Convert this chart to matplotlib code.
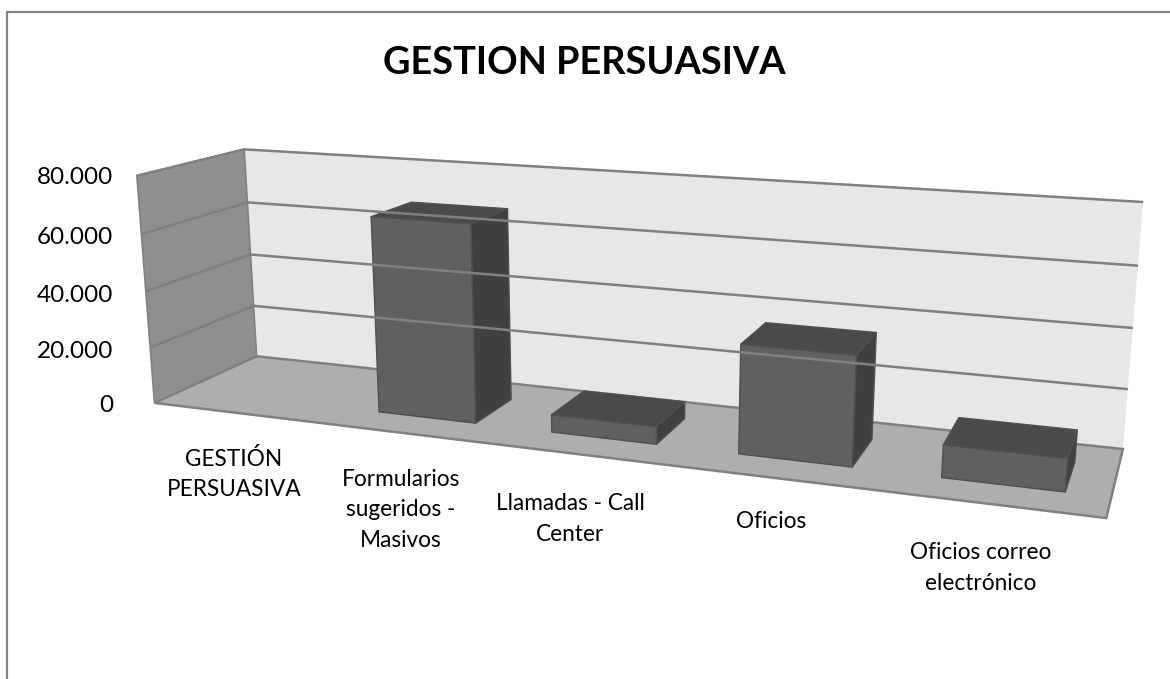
import numpy as np
import matplotlib
matplotlib.use("Agg")
import matplotlib.pyplot as plt
from matplotlib.patches import Polygon

categories = ["GESTIÓN\nPERSUASIVA", "Formularios\nsugeridos -\nMasivos", "Llamadas - Call\nCenter", "Oficios", "Oficios correo\nelectrónico"]
values = [0, 68000, 6000, 36000, 10500]
yticks = [0, 20000, 40000, 60000, 80000]
ytick_labels = ["0", "20.000", "40.000", "60.000", "80.000"]
title = "GESTION PERSUASIVA"

# camera calibration of the 3-D box: (category axis, depth, value) -> image pixel
calib_world = np.array([
    (0, 0, 0), (5, 0, 0), (0, 1, 0), (5, 1, 0), (0, 1, 80000), (5, 1, 80000), (0, 0, 80000),
    (0, 0, 20000), (0, 0, 40000), (0, 0, 60000), (0, 1, 20000), (0, 1, 40000), (0, 1, 60000),
    (5, 1, 20000), (5, 1, 40000), (5, 1, 60000)], float)
calib_px = np.array([
    (153, 403), (1106, 519), (256, 356), (1123, 448), (244, 149), (1143, 202), (136, 175),
    (152, 347), (146, 292), (142, 234), (254, 306), (251, 255), (247, 203),
    (1128, 389), (1133, 328), (1138, 266)], float)


def fit_camera(w, p):
    w = w / np.array([5.0, 1.0, 80000.0])
    rows = []
    for (X, Y, Z), (u, v) in zip(w, p):
        rows.append([X, Y, Z, 1, 0, 0, 0, 0, -u * X, -u * Y, -u * Z, -u])
        rows.append([0, 0, 0, 0, X, Y, Z, 1, -v * X, -v * Y, -v * Z, -v])
    _, _, vt = np.linalg.svd(np.array(rows))
    return vt[-1].reshape(3, 4)


CAM = fit_camera(calib_world, calib_px)


def project(x, d, z):
    h = CAM @ np.array([x / 5.0, d, z / 80000.0, 1.0])
    return h[0] / h[2], h[1] / h[2]


def face(points, **kw):
    ax.add_patch(Polygon([project(*q) for q in points], closed=True, **kw))


plt.rcParams["font.family"] = ["Lato", "DejaVu Sans"]
fig = plt.figure(figsize=(11.7, 6.79), dpi=100)
ax = fig.add_axes([0, 0, 1, 1])
ax.set_xlim(0, 1170)
ax.set_ylim(679, 0)
ax.axis("off")

ax.plot([7, 7, 1170], [679, 12, 12], color="#868686", lw=1.6, solid_joinstyle="miter")

EDGE = "#808080"
X0, X1, ZT = 0, 5, yticks[-1]
face([(X0, 1, 0), (X1, 1, 0), (X1, 1, ZT), (X0, 1, ZT)], fc="#e7e7e7", ec="none")
face([(X0, 0, 0), (X0, 1, 0), (X0, 1, ZT), (X0, 0, ZT)], fc="#8f8f8f", ec=EDGE, lw=1.2)
face([(X0, 0, 0), (X1, 0, 0), (X1, 1, 0), (X0, 1, 0)], fc="#aeaeae", ec=EDGE, lw=1.8)

for t in yticks[1:]:
    pts = [project(X0, 0, t), project(X0, 1, t), project(X1, 1, t)]
    ax.plot(*zip(*pts), color=EDGE, lw=1.8, solid_capstyle="butt")

GAP_L, GAP_R = 0.225, 0.205
D0, D1 = 0.275, 0.72
for i, v in enumerate(values):
    if v <= 0:
        continue
    a, b = i + GAP_L, i + 1 - GAP_R
    kw = dict(ec="#505050", lw=1.0, joinstyle="round")
    face([(a, D0, 0), (b, D0, 0), (b, D0, v), (a, D0, v)], fc="#606060", **kw)
    face([(b, D0, 0), (b, D1, 0), (b, D1, v), (b, D0, v)], fc="#404040", **kw)
    face([(a, D0, v), (b, D0, v), (b, D1, v), (a, D1, v)], fc="#4a4a4a", **kw)

tick_y = [406, 351, 295, 237, 178]
for lab, y in zip(ytick_labels, tick_y):
    ax.text(113, y, lab, ha="right", va="center", fontsize=17.5, color="black")

cat_xy = [(234, 474), (401, 510), (570, 519), (771, 521), (981, 568)]
for lab, (x, y) in zip(categories, cat_xy):
    ax.text(x, y, lab, ha="center", va="center", fontsize=16.3, color="black", linespacing=1.56)

ax.text(584, 63, title, ha="center", va="center", fontsize=27.3, fontweight="bold", color="black")

fig.savefig("out.png", dpi=100)
